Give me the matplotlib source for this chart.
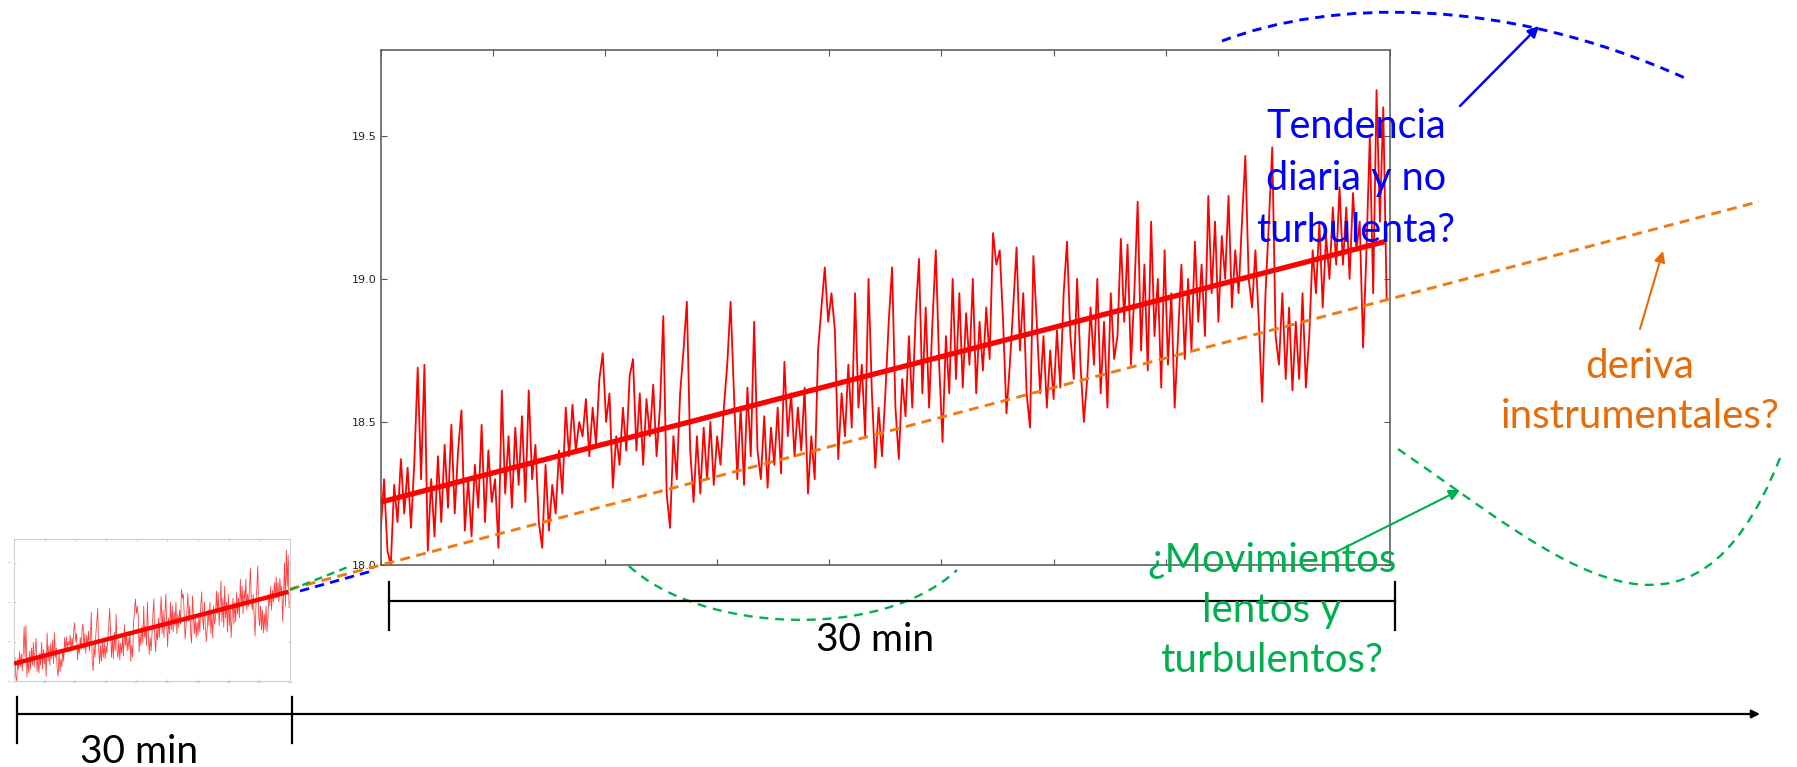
"""
Esquema: serie de temperatura de 30 min, tendencia y posibles causas.
"""

import numpy as np
import matplotlib
matplotlib.use("Agg")
import matplotlib.pyplot as plt
from matplotlib.path import Path
from matplotlib.patches import PathPatch, FancyArrowPatch

W, H, DPI = 1797, 767, 100

# --- datos, un valor cada 6 s ----------------------------------------------
T_STEP = 6
temp = [
    18.12, 18.30, 18.05, 18.00, 18.28, 18.15, 18.37, 18.18, 18.34, 18.13, 18.36, 18.69, 18.30, 18.70, 18.05,
    18.30, 18.10, 18.38, 18.15, 18.42, 18.20, 18.49, 18.18, 18.40, 18.54, 18.12, 18.30, 18.10, 18.35, 18.20,
    18.49, 18.15, 18.40, 18.22, 18.30, 18.06, 18.61, 18.25, 18.45, 18.20, 18.48, 18.28, 18.52, 18.22, 18.61,
    18.30, 18.42, 18.15, 18.06, 18.35, 18.12, 18.28, 18.18, 18.40, 18.25, 18.55, 18.38, 18.56, 18.40, 18.50,
    18.45, 18.58, 18.38, 18.55, 18.42, 18.65, 18.74, 18.50, 18.60, 18.27, 18.45, 18.35, 18.55, 18.40, 18.66,
    18.72, 18.40, 18.60, 18.35, 18.58, 18.45, 18.63, 18.38, 18.55, 18.87, 18.25, 18.13, 18.45, 18.30, 18.60,
    18.75, 18.92, 18.40, 18.22, 18.45, 18.25, 18.48, 18.30, 18.50, 18.28, 18.45, 18.35, 18.55, 18.70, 18.92,
    18.60, 18.30, 18.55, 18.28, 18.62, 18.38, 18.85, 18.40, 18.30, 18.52, 18.27, 18.48, 18.35, 18.55, 18.32,
    18.71, 18.45, 18.60, 18.38, 18.55, 18.40, 18.62, 18.25, 18.45, 18.30, 18.75, 18.90, 19.04, 18.85, 18.95,
    18.82, 18.37, 18.60, 18.45, 18.70, 18.48, 18.95, 18.55, 18.70, 18.45, 19.00, 18.60, 18.34, 18.55, 18.38,
    18.60, 18.85, 19.04, 18.55, 18.37, 18.65, 18.52, 18.80, 18.55, 18.87, 19.07, 18.60, 18.90, 18.55, 18.85,
    19.10, 18.70, 18.43, 18.80, 18.60, 19.00, 18.65, 18.95, 18.62, 18.88, 18.70, 19.00, 18.60, 18.85, 18.68,
    18.90, 18.72, 19.16, 19.05, 19.10, 18.85, 18.53, 18.70, 18.90, 19.11, 18.75, 18.95, 18.60, 18.48, 19.08,
    18.85, 18.60, 18.80, 18.55, 18.75, 18.58, 18.82, 18.62, 18.95, 19.13, 18.80, 18.65, 19.00, 18.70, 18.50,
    18.65, 18.90, 18.70, 19.00, 18.60, 18.85, 18.55, 18.95, 18.72, 18.80, 19.14, 18.85, 19.12, 18.70, 18.95,
    19.27, 18.75, 19.05, 18.68, 19.20, 18.80, 19.00, 18.62, 19.10, 18.70, 18.95, 18.55, 18.80, 19.05, 18.72,
    19.00, 18.75, 19.13, 18.85, 19.05, 18.80, 19.29, 18.95, 19.20, 18.85, 19.15, 19.00, 19.29, 18.90, 19.10,
    18.95, 19.20, 19.43, 19.00, 18.90, 19.10, 18.85, 18.57, 18.95, 19.20, 19.46, 18.80, 18.70, 18.95, 18.65,
    18.90, 18.61, 18.85, 18.65, 18.95, 18.62, 18.80, 19.10, 18.95, 19.20, 18.90, 19.15, 19.00, 19.25, 19.05,
    19.32, 19.05, 19.25, 19.00, 19.30, 19.10, 19.20, 18.76, 19.10, 19.50, 18.95, 19.66, 19.20, 19.60, 18.93,
]
trend_t = [0, 1790]
trend_v = [18.22, 19.13]
drift_t = [-162, 2458]          # deriva instrumental, se sale del panel
drift_v = [17.916, 19.27]
y_ticks = [18.0, 18.5, 19.0, 19.5]
x_ticks = list(range(0, 1801, 200))

# --- anotaciones (coordenadas en píxeles de la figura) ---------------------
blue_arc = [(1222, 41), (1330, 0), (1500, -5), (1685, 78)]
green_low = [(629, 566), (700, 632), (880, 642), (957, 570)]
green_right = [(1398, 449), (1560, 560), (1690, 685), (1780, 458)]
blue_link = [(300, 591), (372, 571)]
green_link = [(290, 590), (348, 567)]

blue_arrow = [(1460, 106), (1539, 26)]
orange_arrow = [(1640, 329), (1663, 251)]
green_arrow = [(1336, 552), (1460, 490)]

blue_text = ["Tendencia", "diaria y no", "turbulenta?"]
orange_text = ["deriva", "instrumentales?"]
green_text = ["¿Movimientos", "lentos y", "turbulentos?"]

BLUE = "#0000FF"
ORANGE = "#E46C0A"
GREEN = "#00B050"
RED = "#FF0000"
FONT = "Lato"


def _box(left, top, right, bottom):
    """Caja en píxeles -> rectángulo en fracción de figura."""
    return [left / W, 1 - bottom / H, (right - left) / W, (bottom - top) / H]


def _draw_series(ax, lw_noise, lw_trend, alpha=1.0):
    t = np.arange(len(temp)) * T_STEP
    ax.plot(t, temp, color=RED, linewidth=lw_noise, alpha=alpha, zorder=2)
    ax.plot(trend_t, trend_v, color=RED, linewidth=lw_trend,
            solid_capstyle="butt", zorder=3)
    ax.set_xlim(0, 1800)
    ax.set_ylim(18.0, 19.8)
    ax.set_yticks(y_ticks)
    ax.set_xticks(x_ticks)
    ax.tick_params(direction="in", top=True, right=True)


def _bezier(ax, pts, color, lw, dashes):
    path = Path(pts, [Path.MOVETO, Path.CURVE4, Path.CURVE4, Path.CURVE4])
    patch = PathPatch(path, facecolor="none", edgecolor=color, linewidth=lw,
                      linestyle=(0, dashes))
    ax.add_patch(patch)


def _arrow(ax, pts, color, lw=1.8, scale=16):
    ax.add_patch(FancyArrowPatch(pts[0], pts[1], arrowstyle="-|>",
                                 mutation_scale=scale, color=color,
                                 linewidth=lw, shrinkA=0, shrinkB=0))


def _lines(ax, lines, x, y0, step, color, size):
    for i, s in enumerate(lines):
        ax.text(x, y0 + i * step, s, color=color, fontsize=size,
                family=FONT, ha="center", va="baseline")


fig = plt.figure(figsize=(W / DPI, H / DPI), dpi=DPI)
fig.patch.set_facecolor("white")

# Panel pequeño (30 min, escala reducida)
ax_s = fig.add_axes(_box(14, 539, 290, 681))
_draw_series(ax_s, 0.6, 3.2, alpha=0.75)
ax_s.set_xticklabels([str(v) for v in x_ticks])
ax_s.tick_params(labelsize=1.5, length=1.5, width=0.4, colors="#999999", pad=1)
for sp in ax_s.spines.values():
    sp.set_color("#cfcfcf")
    sp.set_linewidth(0.8)

# Panel principal
ax = fig.add_axes(_box(380.7, 50, 1390, 565))
_draw_series(ax, 1.3, 3.8)
ax.set_xticklabels([])
ax.tick_params(labelsize=8, length=4, width=0.8, colors="#555555",
               labelcolor="#222222", pad=3)
for sp in ax.spines.values():
    sp.set_color("#606060")
    sp.set_linewidth(1.2)
ax.plot(drift_t, drift_v, color="#EE7B14", linewidth=2.1,
        dashes=(3.4, 2.2), clip_on=False, zorder=4)

# Capa de anotaciones en píxeles
ov = fig.add_axes([0, 0, 1, 1])
ov.set_xlim(0, W)
ov.set_ylim(H, 0)
ov.axis("off")
ov.patch.set_visible(False)

_bezier(ov, blue_arc, BLUE, 2.1, (3.2, 2.3))
_bezier(ov, green_low, GREEN, 1.7, (3.8, 2.9))
_bezier(ov, green_right, GREEN, 1.7, (3.8, 2.9))
ov.plot(*zip(*blue_link), color=BLUE, linewidth=2.0, dashes=(3.4, 2.2))
ov.plot(*zip(*green_link), color=GREEN, linewidth=1.7, dashes=(3.4, 2.2))

_arrow(ov, blue_arrow, BLUE)
_arrow(ov, orange_arrow, ORANGE, lw=1.5)
_arrow(ov, green_arrow, GREEN, lw=1.5)

_lines(ov, blue_text, 1356, 138, 52, BLUE, 28.5)
_lines(ov, orange_text, 1640, 378, 50, ORANGE, 29)
_lines(ov, green_text, 1272, 572, 50, GREEN, 29)

# Barras de escala
ov.plot([389, 1395], [601, 601], color="black", linewidth=1.6)
for xb in (389, 1395):
    ov.plot([xb, xb], [582, 630], color="black", linewidth=1.6)
ov.text(875, 651, "30 min", fontsize=28, family=FONT, ha="center", va="baseline")

_arrow(ov, [(17, 714), (1760, 714)], "black", lw=1.6, scale=12)
for xb in (17, 292):
    ov.plot([xb, xb], [697, 743], color="black", linewidth=1.6)
ov.text(139, 763, "30 min", fontsize=28, family=FONT, ha="center", va="baseline")

fig.savefig("out.png", dpi=DPI, facecolor="white")
